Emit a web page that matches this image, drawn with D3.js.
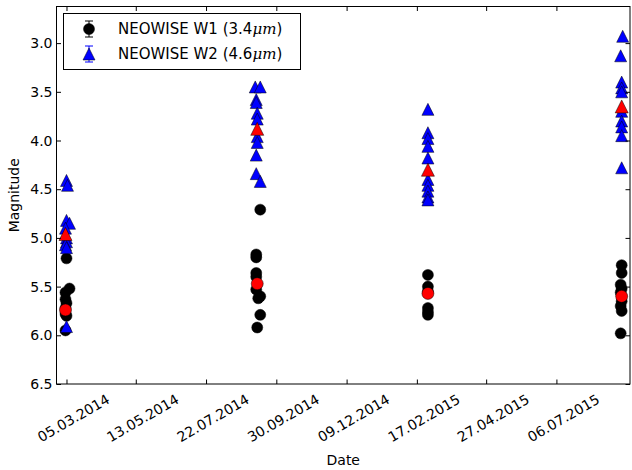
<!doctype html>
<html>
  <head>
    <meta charset="utf-8">
    <title>NEOWISE light curve</title>
    <script src="https://d3js.org/d3.v7.min.js"></script>
    <style>
      body { margin: 0; background: white; }
      text { font-family: "DejaVu Sans", sans-serif; }
    </style>
  </head>
  <body>
<div id="chart"></div>
<script>
// tick labels
var dateTicks = ["05.03.2014", "13.05.2014", "22.07.2014", "30.09.2014",
                 "09.12.2014", "17.02.2015", "27.04.2015", "06.07.2015"];
var magTicks = [3.0, 3.5, 4.0, 4.5, 5.0, 5.5, 6.0, 6.5];

// W1 (3.4um) single exposures
var w1Dates = ["2014-03-05","2014-03-08","2014-03-04","2014-03-04","2014-03-05","2014-03-04","2014-03-04","2014-03-05","2014-03-04",
               "2014-09-14","2014-09-10","2014-09-10","2014-09-10","2014-09-10","2014-09-10","2014-09-14","2014-09-12","2014-09-14","2014-09-11",
               "2015-02-28","2015-02-28","2015-02-28","2015-02-28","2015-02-28","2015-02-28",
               "2015-09-09","2015-09-09","2015-09-08","2015-09-09","2015-09-08","2015-09-09","2015-09-08","2015-09-09","2015-09-08"];
var w1Mags  = [5.21, 5.52, 5.56, 5.63, 5.67, 5.72, 5.78, 5.80, 5.95,
               4.71, 5.17, 5.20, 5.36, 5.40, 5.53, 5.60, 5.62, 5.79, 5.92,
               5.38, 5.50, 5.55, 5.72, 5.76, 5.79,
               5.28, 5.36, 5.48, 5.52, 5.56, 5.65, 5.70, 5.75, 5.98];

// W2 (4.6um) single exposures
var w2Dates = ["2014-03-05","2014-03-06","2014-03-05","2014-03-08","2014-03-04","2014-03-05","2014-03-05","2014-03-04","2014-03-05","2014-03-05",
               "2014-09-09","2014-09-14","2014-09-10","2014-09-10","2014-09-11","2014-09-11","2014-09-11","2014-09-11","2014-09-10","2014-09-10","2014-09-14",
               "2015-02-28","2015-02-28","2015-02-28","2015-02-28","2015-02-28","2015-02-28","2015-02-28","2015-02-28","2015-02-28","2015-02-28",
               "2015-09-10","2015-09-08","2015-09-09","2015-09-09","2015-09-09","2015-09-09","2015-09-09","2015-09-09","2015-09-09","2015-09-09"];
var w2Mags  = [4.41, 4.46, 4.82, 4.85, 4.90, 5.00, 5.04, 5.07, 5.10, 5.91,
               3.45, 3.45, 3.58, 3.61, 3.72, 3.78, 3.96, 4.02, 4.15, 4.34, 4.42,
               3.68, 3.92, 3.98, 4.06, 4.18, 4.40, 4.46, 4.52, 4.58, 4.61,
               2.93, 3.13, 3.40, 3.46, 3.50, 3.70, 3.80, 3.86, 3.95, 4.28];

// epoch means (red)
var meanDates = ["2014-03-04", "2014-09-11", "2015-02-28", "2015-09-09"];
var w1Means = [5.74, 5.47, 5.57, 5.60];
var w2Means = [4.96, 3.88, 4.30, 3.65];

var parseDay = d3.timeParse("%Y-%m-%d");
var parseTick = d3.timeParse("%d.%m.%Y");
var fmtTick = d3.timeFormat("%d.%m.%Y");

// set the dimensions and margins of the graph
var W = 632, H = 470;
var pL = 56.5, pR = 630, pT = 6.5, pB = 384;

var svg = d3.select("#chart").append("svg")
    .attr("width", W)
    .attr("height", H);

// set the ranges
var x = d3.scaleTime()
    .domain([new Date(2014, 1, 23, 1), new Date(2015, 8, 17, 7)])
    .range([pL, pR]);

var y = d3.scaleLinear()
    .domain([6.5, 2.624])
    .range([pB, pT]);

function tri(h) {
  return "M0," + (-h) + "L" + h + "," + h + "L" + (-h) + "," + h + "Z";
}

function pairs(ds, ms) {
  return ds.map(function(d, i) { return {date: parseDay(d), mag: ms[i]}; });
}

var w1 = pairs(w1Dates, w1Mags);
var w2 = pairs(w2Dates, w2Mags);
var m1 = pairs(meanDates, w1Means);
var m2 = pairs(meanDates, w2Means);

var plot = svg.append("g");

// W1 black circles
plot.selectAll(".w1").data(w1).enter().append("circle")
    .attr("cx", function(d) { return x(d.date); })
    .attr("cy", function(d) { return y(d.mag); })
    .attr("r", 5.5)
    .attr("fill", "black")
    .attr("stroke", "black")
    .attr("stroke-width", 0.5);

// W2 blue triangles
plot.selectAll(".w2").data(w2).enter().append("path")
    .attr("d", tri(6))
    .attr("transform", function(d) { return "translate(" + x(d.date) + "," + y(d.mag) + ")"; })
    .attr("fill", "#0000ff")
    .attr("stroke", "black")
    .attr("stroke-width", 0.5);

// means in red
plot.selectAll(".m1").data(m1).enter().append("circle")
    .attr("cx", function(d) { return x(d.date); })
    .attr("cy", function(d) { return y(d.mag); })
    .attr("r", 6)
    .attr("fill", "#ff0000")
    .attr("stroke", "black")
    .attr("stroke-width", 0.5);

plot.selectAll(".m2").data(m2).enter().append("path")
    .attr("d", tri(6.5))
    .attr("transform", function(d) { return "translate(" + x(d.date) + "," + y(d.mag) + ")"; })
    .attr("fill", "#ff0000")
    .attr("stroke", "black")
    .attr("stroke-width", 0.5);

// axes, classic style: ticks inward on all four sides
var tickDates = dateTicks.map(parseTick);

svg.append("g")
    .attr("transform", "translate(0," + pB + ")")
    .call(d3.axisBottom(x).tickValues(tickDates).tickSizeInner(-4.5).tickSizeOuter(0).tickFormat(""));
svg.append("g")
    .attr("transform", "translate(0," + pT + ")")
    .call(d3.axisTop(x).tickValues(tickDates).tickSizeInner(-4.5).tickSizeOuter(0).tickFormat(""));
svg.append("g")
    .attr("transform", "translate(" + pL + ",0)")
    .call(d3.axisLeft(y).tickValues(magTicks).tickSizeInner(-4.5).tickSizeOuter(0).tickFormat(""));
svg.append("g")
    .attr("transform", "translate(" + pR + ",0)")
    .call(d3.axisRight(y).tickValues(magTicks).tickSizeInner(-4.5).tickSizeOuter(0).tickFormat(""));
svg.selectAll(".domain").remove();
svg.selectAll(".tick line").attr("stroke", "black").attr("stroke-width", 1);

// frame
svg.append("rect")
    .attr("x", pL).attr("y", pT)
    .attr("width", pR - pL).attr("height", pB - pT)
    .attr("fill", "none")
    .attr("stroke", "black")
    .attr("stroke-width", 1);

// y tick labels
svg.selectAll(".ylab").data(magTicks).enter().append("text")
    .attr("x", pL - 4)
    .attr("y", function(d) { return y(d); })
    .attr("dy", "0.36em")
    .attr("text-anchor", "end")
    .style("font-size", "14px")
    .text(function(d) { return d.toFixed(1); });

// x tick labels, rotated
svg.selectAll(".xlab").data(tickDates).enter().append("text")
    .attr("transform", function(d) { return "translate(" + (x(d) + 7) + "," + (pB + 34) + ") rotate(-30)"; })
    .attr("dy", "0.36em")
    .attr("text-anchor", "middle")
    .style("font-size", "14px")
    .text(function(d) { return fmtTick(d); });

// axis titles
svg.append("text")
    .attr("x", (pL + pR) / 2)
    .attr("y", 465)
    .attr("text-anchor", "middle")
    .style("font-size", "14px")
    .text("Date");

svg.append("text")
    .attr("transform", "translate(19," + ((pT + pB) / 2) + ") rotate(-90)")
    .attr("text-anchor", "middle")
    .style("font-size", "14px")
    .text("Magnitude");

// legend
var lg = svg.append("g");
lg.append("rect")
    .attr("x", 63.5).attr("y", 13.5)
    .attr("width", 237).attr("height", 56)
    .attr("fill", "white")
    .attr("stroke", "black")
    .attr("stroke-width", 1);

var legendRows = [
  {label: "NEOWISE W1 (3.4", color: "black", shape: "circle"},
  {label: "NEOWISE W2 (4.6", color: "#0000ff", shape: "tri"}
];

legendRows.forEach(function(r, i) {
  var cy = 29 + i * 25, cx = 89;
  lg.append("line").attr("x1", cx).attr("x2", cx).attr("y1", cy - 8).attr("y2", cy + 8)
      .attr("stroke", r.color).attr("stroke-width", 1);
  lg.append("line").attr("x1", cx - 4).attr("x2", cx + 4).attr("y1", cy - 8).attr("y2", cy - 8)
      .attr("stroke", r.color).attr("stroke-width", 1);
  lg.append("line").attr("x1", cx - 4).attr("x2", cx + 4).attr("y1", cy + 8).attr("y2", cy + 8)
      .attr("stroke", r.color).attr("stroke-width", 1);
  if (r.shape === "circle") {
    lg.append("circle").attr("cx", cx).attr("cy", cy).attr("r", 5.5)
        .attr("fill", "black").attr("stroke", "black").attr("stroke-width", 0.5);
  } else {
    lg.append("path").attr("d", tri(6)).attr("transform", "translate(" + cx + "," + cy + ")")
        .attr("fill", "#0000ff").attr("stroke", "black").attr("stroke-width", 0.5);
  }
  var t = lg.append("text")
      .attr("x", 118).attr("y", cy).attr("dy", "0.36em")
      .style("font-size", "15px");
  t.append("tspan").text(r.label);
  t.append("tspan").style("font-family", "'DejaVu Serif', serif").style("font-style", "italic").text("\u03bcm");
  t.append("tspan").text(")");
});

</script>
  </body>
</html>
